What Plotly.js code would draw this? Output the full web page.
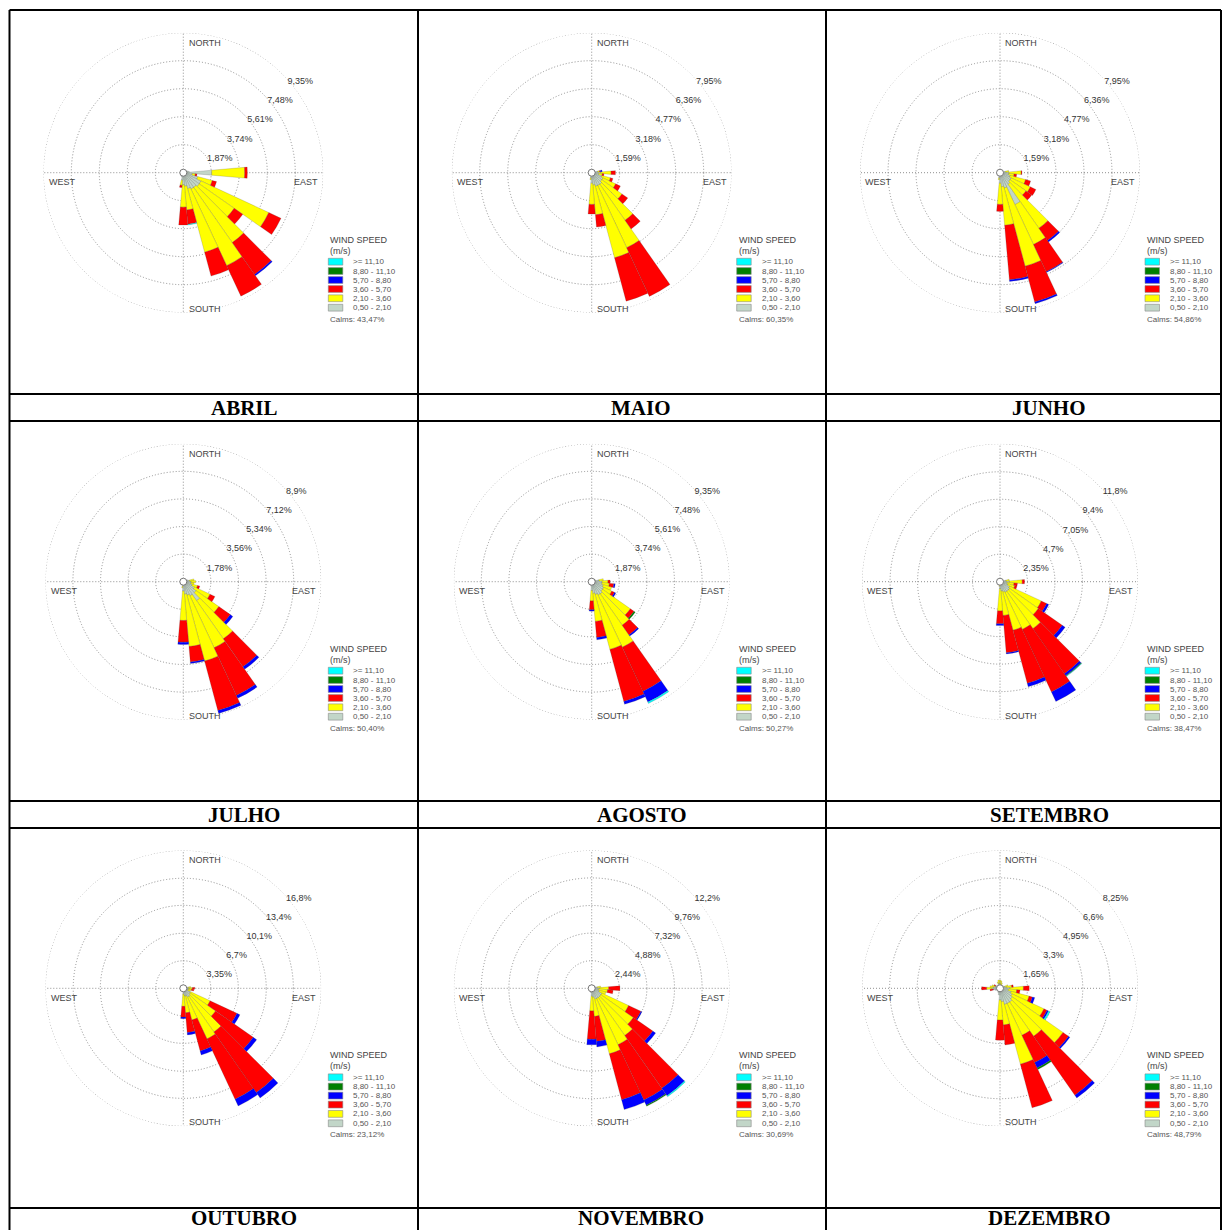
<!DOCTYPE html>
<html><head><meta charset="utf-8">
<script src="https://cdn.plot.ly/plotly-3.0.1.min.js"></script>
<style>html,body{margin:0;padding:0;background:#fff}#chart{width:1223px;height:1230px}</style>
</head><body><div id="chart"></div>
<script>
const W = 1223, H = 1230;

// directions (degrees, compass), 36 sectors
const DIRS = [0,10,20,30,40,50,60,70,80,90,100,110,120,130,140,150,160,170,180,190,200,210,220,230,240,250,260,270,280,290,300,310,320,330,340,350];
const Z8 = [0,0,0,0,0,0,0,0];
const Z16 = [0,0,0,0,0,0,0,0,0,0,0,0,0,0,0,0];

const MONTHS = ['ABRIL','MAIO','JUNHO','JULHO','AGOSTO','SETEMBRO','OUTUBRO','NOVEMBRO','DEZEMBRO'];
const BIN_LABELS = ['0,50 - 2,10','2,10 - 3,60','3,60 - 5,70','5,70 - 8,80','8,80 - 11,10','>= 11,10'];
const BIN_COLORS = ['#c2d6c8','#ffff00','#ff0000','#0000ff','#007f00','#00ffff'];
const CALMS = [43.47, 60.35, 54.86, 50.40, 50.27, 38.47, 23.12, 30.69, 48.79];
const RINGS = [
  [1.87,3.74,5.61,7.48,9.35],
  [1.59,3.18,4.77,6.36,7.95],
  [1.59,3.18,4.77,6.36,7.95],
  [1.78,3.56,5.34,7.12,8.9],
  [1.87,3.74,5.61,7.48,9.35],
  [2.35,4.7,7.05,9.4,11.8],
  [3.35,6.7,10.1,13.4,16.8],
  [2.44,4.88,7.32,9.76,12.2],
  [1.65,3.3,4.95,6.6,8.25]
];

// frequency (%) per speed class: [0.5-2.1, 2.1-3.6, 3.6-5.7, 5.7-8.8, 8.8-11.1, >=11.1]
// each row: 0..70 | 80..190 | 200..350
const ABRIL = [
  [.15,.15,.15,.15,.15,.15,.2,.3, .4,1.9,.6,1.0,1.3,1.3,1.2,1.2,1.1,.9,.8,.5, .3,.2,.15,.15,.15,.15,.15,.15,.15,.15,.15,.15,.15,.15,.15,.15],
  [...Z8, 0,2.2,.2,1.0,5.0,2.85,4.5,5.65,4.4,1.6,1.5,.35, ...Z16],
  [...Z8, 0,.18,.12,.3,.9,.7,2.6,2.25,1.65,.95,1.2,.15, ...Z16],
  [...Z8, 0,0,0,0,0,0,.1,0,0,0,0,0, ...Z16],
  [...Z8, 0,0,0,0,0,0,0,0,0,0,0,0, ...Z16],
  [...Z8, 0,0,0,0,0,0,0,0,0,.05,0,0, ...Z16]
];
const MAIO = [
  [.12,.12,.12,.12,.12,.12,.15,.2, .35,.5,.4,.6,.7,.7,.8,.8,.8,.7,.6,.3, .2,.12,.12,.12,.12,.12,.12,.12,.12,.12,.12,.12,.12,.12,.12,.12],
  [...Z8, .1,.6,.2,.5,.8,1.4,2.5,3.9,4.2,1.7,1.2,.1, ...Z16],
  [...Z8, .05,.25,.1,.15,.3,.4,.6,3.05,2.55,.7,.55,0, ...Z16],
  [...Z8, .1,0,0,0,0,0,0,0,0,0,0,0, ...Z16],
  [...Z8, 0,0,0,0,0,0,0,0,0,0,0,0, ...Z16],
  [...Z8, 0,0,0,0,0,0,0,0,0,0,0,0, ...Z16]
];
const JUNHO = [
  [.12,.12,.12,.12,.12,.12,.15,.2, .3,.5,.5,.6,.7,.7,.8,2.0,.9,.8,.6,.3, .2,.12,.12,.12,.12,.12,.12,.12,.12,.12,.12,.12,.12,.12,.12,.12],
  [...Z8, .2,.7,.3,.9,1.2,1.1,3.05,2.5,4.6,2.2,1.2,.1, ...Z16],
  [...Z8, 0,.05,.15,.3,.35,.4,.85,1.7,2.1,3.1,.4,0, ...Z16],
  [...Z8, 0,0,0,0,0,0,.1,.05,.1,.1,0,0, ...Z16],
  [...Z8, 0,0,0,0,0,0,0,0,0,0,0,0, ...Z16],
  [...Z8, 0,0,0,0,0,0,0,0,0,0,0,0, ...Z16]
];
const JULHO = [
  [.15,.15,.15,.15,.15,.15,.2,.3, .4,.5,.5,.6,.8,1.0,1.5,1.0,.9,.8,.6,.3, .2,.15,.15,.15,.15,.15,.15,.15,.15,.15,.15,.15,.15,.15,.15,.15],
  [...Z8, .3,.3,.2,.35,1.1,1.8,3.0,3.7,4.4,3.4,1.9,.1, ...Z16],
  [...Z8, 0,0,0,.15,.35,.9,2.2,3.4,3.3,1.0,1.4,0, ...Z16],
  [...Z8, 0,0,0,0,0,.2,.2,.2,.2,.1,.15,0, ...Z16],
  [...Z8, 0,0,0,0,0,0,0,0,0,0,0,0, ...Z16],
  [...Z8, 0,0,0,0,0,0,0,0,0,0,0,0, ...Z16]
];
const AGOSTO = [
  [.15,.15,.15,.15,.15,.15,.2,.3, .5,.7,.7,.8,.9,.9,1.0,1.0,.9,.8,.6,.3, .2,.15,.15,.15,.15,.15,.15,.15,.15,.15,.15,.15,.15,.15,.15,.15],
  [...Z8, .3,.4,.5,.6,.6,2.3,2.6,3.9,3.85,1.9,.7,0, ...Z16],
  [...Z8, 0,.15,.3,0,.2,.3,.8,3.3,3.65,1.1,.6,0, ...Z16],
  [...Z8, 0,0,.1,0,.1,0,.1,.8,.2,.15,.1,0, ...Z16],
  [...Z8, 0,0,0,0,0,.1,0,0,0,0,0,0, ...Z16],
  [...Z8, 0,0,0,0,0,0,0,.1,0,0,0,0, ...Z16]
];
const SETEMBRO = [
  [.2,.2,.2,.2,.2,.2,.25,.3, .5,.8,.6,.7,.9,1.0,1.0,1.0,.9,.8,.6,.3, .25,.2,.2,.2,.2,.2,.2,.2,.2,.2,.2,.2,.2,.2,.2,.2],
  [...Z8, .3,1.1,.6,.6,3.0,3.0,3.9,3.5,3.4,2.1,1.9,.1, ...Z16],
  [...Z8, 0,.2,.3,.2,.5,2.5,4.7,5.9,4.7,3.2,1.1,0, ...Z16],
  [...Z8, 0,0,0,0,.2,.3,.2,.9,.3,.1,.15,0, ...Z16],
  [...Z8, 0,0,0,0,0,0,.05,0,0,0,0,0, ...Z16],
  [...Z8, 0,0,0,0,0,0,.05,0,0,0,0,0, ...Z16]
];
const OUTUBRO = [
  [.3,.3,.3,.3,.3,.3,.35,.4, .6,.7,.6,.6,1.0,1.0,1.2,1.2,1.0,.9,.7,.4, .35,.3,.3,.3,.3,.3,.3,.3,.3,.3,.3,.3,.3,.3,.3,.3],
  [...Z8, .3,.4,.4,.3,2.6,3.8,5.3,5.6,3.0,2.1,1.5,0, ...Z16],
  [...Z8, 0,.3,.3,0,3.6,5.6,9.0,8.1,3.9,2.4,1.3,0, ...Z16],
  [...Z8, 0,0,0,0,.4,.5,.8,.9,.5,.3,.2,0, ...Z16],
  [...Z8, 0,0,0,0,0,0,0,0,0,0,0,0, ...Z16],
  [...Z8, 0,0,0,0,0,0,0,0,0,0,0,0, ...Z16]
];
const NOVEMBRO = [
  [.25,.25,.25,.25,.25,.25,.3,.35, .5,.7,.6,.7,1.0,1.0,1.0,1.0,1.0,.8,.7,.4, .3,.25,.25,.25,.25,.25,.25,.25,.25,.25,.25,.25,.25,.25,.25,.25],
  [...Z8, .3,.8,.8,.6,2.6,3.5,4.1,4.5,5.0,1.7,1.3,0, ...Z16],
  [...Z8, 0,1.0,.5,0,1.2,2.1,5.7,5.4,4.2,2.2,2.5,0, ...Z16],
  [...Z8, 0,0,0,0,.1,.3,.8,.5,.9,.5,.5,0, ...Z16],
  [...Z8, 0,0,0,0,0,0,0,.1,0,0,0,0, ...Z16],
  [...Z8, 0,0,0,0,0,0,.1,0,0,0,0,0, ...Z16]
];
const DEZEMBRO = [
  [.3,.25,.2,.2,.2,.2,.25,.3, .4,.6,.5,.7,.8,.9,1.0,1.0,1.0,.8,.7,.4, .3,.2,.2,.2,.2,.3,.4,.5,.4,.3,.3,.2,.2,.2,.3,.3],
  [.2,.2,.15,0,0,0,0,.2, .3,.8,.5,1.1,2.1,3.7,2.5,2.1,3.7,1.4,1.2,0, 0,0,0,0,0,0,0,.3,.2,.2,0,0,0,0,.1,.2],
  [...Z8, .1,.35,.2,.2,.2,.4,4.3,1.8,2.7,1.2,1.2,0, 0,0,0,0,0,0,.2,.3,0,0,.1,0,0,0,0,0],
  [...Z8, 0,0,0,.15,.1,.1,.2,.35,0,0,0,0, ...Z16],
  [...Z8, 0,0,0,0,0,0,0,.1,0,0,0,0, ...Z16],
  [...Z8, 0,0,0,0,.1,0,0,0,0,0,0,0, ...Z16]
];
const DATA = [ABRIL, MAIO, JUNHO, JULHO, AGOSTO, SETEMBRO, OUTUBRO, NOVEMBRO, DEZEMBRO];

// ---- layout geometry (pixels) ----
const CX = [183.3, 591.7, 1000.0];
const CY = [172.7, 581.7, 988.3];
const RR = [140, 138, 138];
const LABEL_X = [244, 641, 1049];
const LABEL_Y = [407.5, 814.5, 1218];
const HLINES = [10, 394, 421, 801, 828, 1208];
const VLINES = [9.5, 418, 826, 1221];

const px = x => x / W;
const py = y => 1 - y / H;
const SANS = 'Liberation Sans, Arial, sans-serif';
const fmt = v => String(v).replace('.', ',') + '%';
const GRID = '#8f8f8f';
const DOT = '1px,2px';

const traces = [];
const layout = {
  width: W, height: H, margin: {l: 0, r: 0, t: 0, b: 0},
  paper_bgcolor: '#ffffff', showlegend: false,
  annotations: [], shapes: []
};

MONTHS.forEach((m, i) => {
  const col = i % 3, row = Math.floor(i / 3);
  const cx = CX[col], cy = CY[row], R = RR[row];
  const pid = i === 0 ? 'polar' : 'polar' + (i + 1);
  const rings = RINGS[i];
  const rmax = rings[rings.length - 1];
  layout[pid] = {
    domain: {x: [px(cx - R), px(cx + R)], y: [py(cy + R), py(cy - R)]},
    bgcolor: 'rgba(0,0,0,0)',
    barmode: 'stack',
    angularaxis: {
      rotation: 90, direction: 'clockwise',
      tickvals: [0, 90, 180, 270], showticklabels: false, ticks: '',
      showgrid: true, gridcolor: GRID, griddash: DOT, gridwidth: 1,
      showline: false
    },
    radialaxis: {
      range: [0, rmax],
      tickvals: rings, ticktext: rings.map(fmt),
      showline: false, ticks: '',
      showgrid: true, gridcolor: GRID, griddash: DOT, gridwidth: 1,
      angle: 44, tickangle: 44,
      tickfont: {family: SANS, size: 9, color: '#333'}
    }
  };
  // outer dotted ring at the last ring value
  traces.push({
    type: 'scatterpolar', subplot: pid, mode: 'lines',
    r: DIRS.concat([360]).map(() => rmax), theta: DIRS.concat([360]),
    line: {color: GRID, width: 1, dash: DOT, shape: 'spline'},
    hoverinfo: 'skip', cliponaxis: false
  });
  DATA[i].forEach((vals, b) => {
    traces.push({
      type: 'barpolar', subplot: pid, name: BIN_LABELS[b],
      r: vals.map(v => v > 0 ? v : null), theta: DIRS, width: 10,
      marker: {color: BIN_COLORS[b], line: {color: 'rgba(70,70,70,0.5)', width: 0.4}},
      hoverinfo: 'skip'
    });
  });
  traces.push({
    type: 'scatterpolar', subplot: pid, r: [0], theta: [0], mode: 'markers',
    marker: {size: 7, color: '#ffffff', line: {color: '#777', width: 1}},
    hoverinfo: 'skip'
  });

  const A = layout.annotations;
  const txt = (x, y, text, size, anchor, color) => A.push({
    xref: 'paper', yref: 'paper', x: px(x), y: py(y), text: text,
    showarrow: false, xanchor: anchor || 'left', yanchor: 'middle',
    font: {family: SANS, size: size, color: color || '#444'}
  });
  // compass labels
  txt(cx + 3.4, cy - R + 10, 'NORTH', 9);
  txt(cx + 3.4, cy + R - 4, 'SOUTH', 9);
  txt(cx - R + 3.4, cy + 9.3, 'WEST', 9);
  txt(cx + R - 3, cy + 9.3, 'EAST', 9, 'right');
  // legend
  txt(cx + 145, cy + 67, 'WIND SPEED', 9);
  txt(cx + 145, cy + 78, '(m/s)', 9);
  const legY = [135, 125.6, 116.3, 107.3, 98.3, 89];
  BIN_LABELS.forEach((lab, b) => {
    const yc = cy + legY[b];
    layout.shapes.push({
      type: 'rect', xref: 'paper', yref: 'paper',
      x0: px(cx + 145), x1: px(cx + 159.5), y0: py(yc + 3.4), y1: py(yc - 3.4),
      fillcolor: BIN_COLORS[b], line: {color: '#888', width: 0.6}
    });
    txt(cx + 168, yc, lab, 8, 'left', '#555');
  });
  txt(cx + 145, cy + 146.6, 'Calms: ' + CALMS[i].toFixed(2).replace('.', ',') + '%', 8, 'left', '#555');
  // month label
  A.push({
    xref: 'paper', yref: 'paper', x: px(LABEL_X[col]), y: py(LABEL_Y[row]),
    text: '<b>' + m + '</b>', showarrow: false, xanchor: 'center', yanchor: 'middle',
    font: {family: 'Liberation Serif, Times New Roman, serif', size: 21, color: '#000'}
  });
});

// table lines
HLINES.forEach(y => layout.shapes.push({
  type: 'line', xref: 'paper', yref: 'paper',
  x0: px(VLINES[0]), x1: px(VLINES[VLINES.length - 1]), y0: py(y), y1: py(y),
  line: {color: '#000', width: 2}
}));
VLINES.forEach(x => layout.shapes.push({
  type: 'line', xref: 'paper', yref: 'paper',
  x0: px(x), x1: px(x), y0: py(HLINES[0]), y1: 0,
  line: {color: '#000', width: 2}
}));

Plotly.newPlot('chart', traces, layout, {staticPlot: true, displayModeBar: false});
</script></body></html>
